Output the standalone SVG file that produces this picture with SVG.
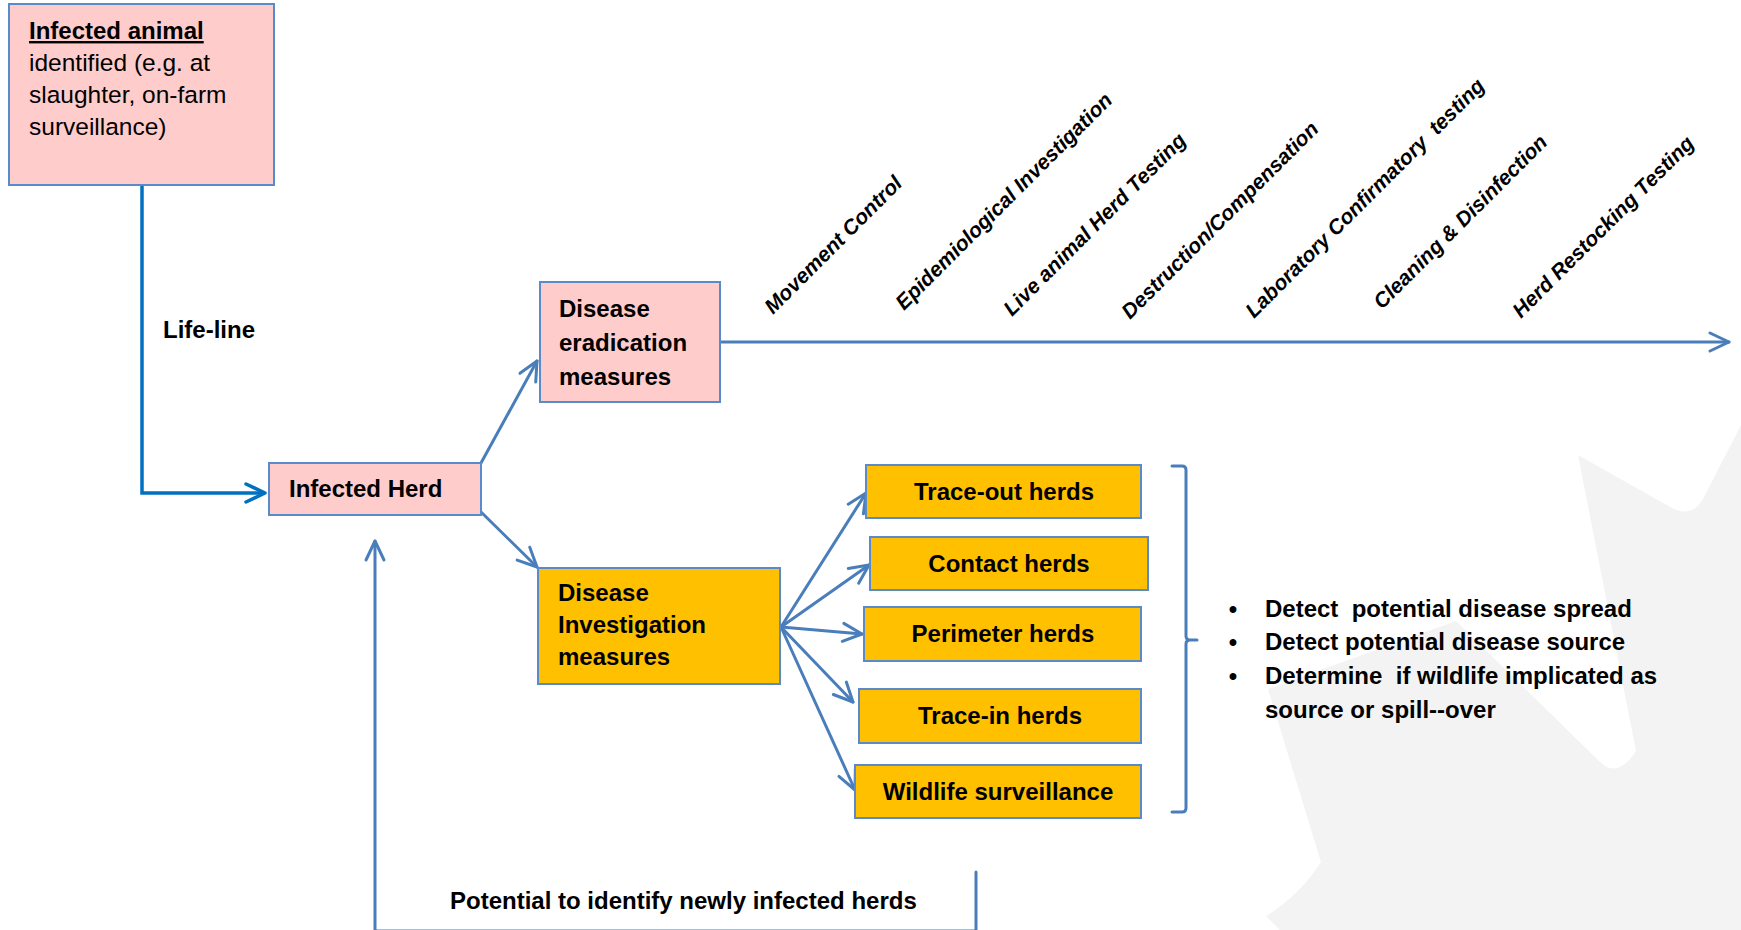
<svg xmlns="http://www.w3.org/2000/svg" width="1741" height="930" viewBox="0 0 1741 930">
<defs>
<style>
.t{font-family:"Liberation Sans",Arial,sans-serif;fill:#000;}
.b{font-weight:bold;font-size:24px;}
.r{font-size:24.5px;}
.lbl{font-weight:bold;font-style:italic;font-size:21px;white-space:pre;}
.pink{fill:#FFCCCC;stroke:#5B8ACB;stroke-width:2;}
.orange{fill:#FFC000;stroke:#5B8ACB;stroke-width:2;}
.conn{fill:none;stroke:#4A7EBB;stroke-width:3;stroke-linecap:round;}
.life{fill:none;stroke:#0070C0;stroke-width:3.5;}
.pre{white-space:pre;}
</style>
<marker id="arr" markerUnits="userSpaceOnUse" markerWidth="30" markerHeight="30" refX="20" refY="10" orient="auto" overflow="visible">
<path d="M1,1 L20,10 L1,19" fill="none" stroke="#4A7EBB" stroke-width="3" stroke-linecap="round" stroke-linejoin="round"/>
</marker>
<marker id="arrL" markerUnits="userSpaceOnUse" markerWidth="30" markerHeight="30" refX="20" refY="10" orient="auto" overflow="visible">
<path d="M1,1 L20,10 L1,19" fill="none" stroke="#0070C0" stroke-width="3.5" stroke-linecap="round" stroke-linejoin="round"/>
</marker>
</defs>
<rect width="1741" height="930" fill="#fff"/>
<path id="watermark" d="M1280,930 L1266,916 Q1300,895 1321,862 L1268,689 L1456,621 L1599,761 Q1617,780 1636,751 L1578,455 L1672,508 Q1692,518 1703,499 L1741,425 L1741,930 Z" fill="#F3F3F3"/>

<g id="connectors">
<path class="life" d="M142,185 L142,493 L265,493" marker-end="url(#arrL)"/>
<path class="conn" d="M481,463 L537,361" marker-end="url(#arr)"/>
<path class="conn" d="M481,512 L537,567" marker-end="url(#arr)"/>
<path class="conn" d="M719,342 L1729,342" marker-end="url(#arr)"/>
<path class="conn" d="M781,627 L866,493" marker-end="url(#arr)"/>
<path class="conn" d="M781,627 L869,565" marker-end="url(#arr)"/>
<path class="conn" d="M781,627 L862,634" marker-end="url(#arr)"/>
<path class="conn" d="M781,627 L853,702" marker-end="url(#arr)"/>
<path class="conn" d="M781,627 L855,790" marker-end="url(#arr)"/>
<path class="conn" d="M976,872 L976,931 L375,931 L375,541" marker-end="url(#arr)"/>
<path class="conn" d="M1172,466 L1182,466 Q1186,466 1186,470 L1186,636 Q1186,640 1190,640 L1197,640 M1190,640 Q1186,640 1186,644 L1186,808 Q1186,812 1182,812 L1172,812"/>
</g>

<text class="t b" x="163" y="338">Life-line</text>

<g id="infected-animal">
<rect class="pink" x="9" y="4" width="265" height="181"/>
<text class="t b" x="29" y="39" text-decoration="underline">Infected animal</text>
<text class="t r" x="29" y="71">identified (e.g. at</text>
<text class="t r" x="29" y="103">slaughter, on-farm</text>
<text class="t r" x="29" y="135">surveillance)</text>
</g>

<g id="infected-herd">
<rect class="pink" x="269" y="463" width="212" height="52"/>
<text class="t b" x="289" y="497">Infected Herd</text>
</g>

<g id="disease-eradication">
<rect class="pink" x="540" y="282" width="180" height="120"/>
<text class="t b" x="559" y="317">Disease</text>
<text class="t b" x="559" y="351">eradication</text>
<text class="t b" x="559" y="385">measures</text>
</g>

<g id="disease-investigation">
<rect class="orange" x="538" y="568" width="242" height="116"/>
<text class="t b" x="558" y="601">Disease</text>
<text class="t b" x="558" y="633">Investigation</text>
<text class="t b" x="558" y="665">measures</text>
</g>

<g id="trace-out">
<rect class="orange" x="866" y="465" width="275" height="53"/>
<text class="t b" x="1004" y="500" text-anchor="middle">Trace-out herds</text>
</g>
<g id="contact">
<rect class="orange" x="870" y="537" width="278" height="53"/>
<text class="t b" x="1009" y="572" text-anchor="middle">Contact herds</text>
</g>
<g id="perimeter">
<rect class="orange" x="864" y="607" width="277" height="54"/>
<text class="t b" x="1003" y="642" text-anchor="middle">Perimeter herds</text>
</g>
<g id="trace-in">
<rect class="orange" x="859" y="689" width="282" height="54"/>
<text class="t b" x="1000" y="724" text-anchor="middle">Trace-in herds</text>
</g>
<g id="wildlife">
<rect class="orange" x="855" y="765" width="286" height="53"/>
<text class="t b" x="998" y="800" text-anchor="middle">Wildlife surveillance</text>
</g>

<g id="bullets">
<text class="t b" x="1233" y="617" text-anchor="middle">•</text>
<text class="t b" x="1233" y="650" text-anchor="middle">•</text>
<text class="t b" x="1233" y="684" text-anchor="middle">•</text>
<text class="t b pre" x="1265" y="617">Detect  potential disease spread</text>
<text class="t b" x="1265" y="650">Detect potential disease source</text>
<text class="t b pre" x="1265" y="684">Determine  if wildlife implicated as</text>
<text class="t b" x="1265" y="718">source or spill--over</text>
</g>

<g id="timeline-labels">
<text class="t lbl" transform="translate(773,315) rotate(-45)">Movement Control</text>
<text class="t lbl" transform="translate(904,311) rotate(-45)">Epidemiological Investigation</text>
<text class="t lbl" transform="translate(1012,317) rotate(-45)">Live animal Herd Testing</text>
<text class="t lbl" transform="translate(1130,320) rotate(-45)">Destruction/Compensation</text>
<text class="t lbl" transform="translate(1254,319) rotate(-45)">Laboratory Confirmatory  testing</text>
<text class="t lbl" transform="translate(1382,310) rotate(-45)">Cleaning &amp; Disinfection</text>
<text class="t lbl" transform="translate(1521,319) rotate(-45)">Herd Restocking Testing</text>
</g>

<text class="t b" x="450" y="909">Potential to identify newly infected herds</text>
</svg>
